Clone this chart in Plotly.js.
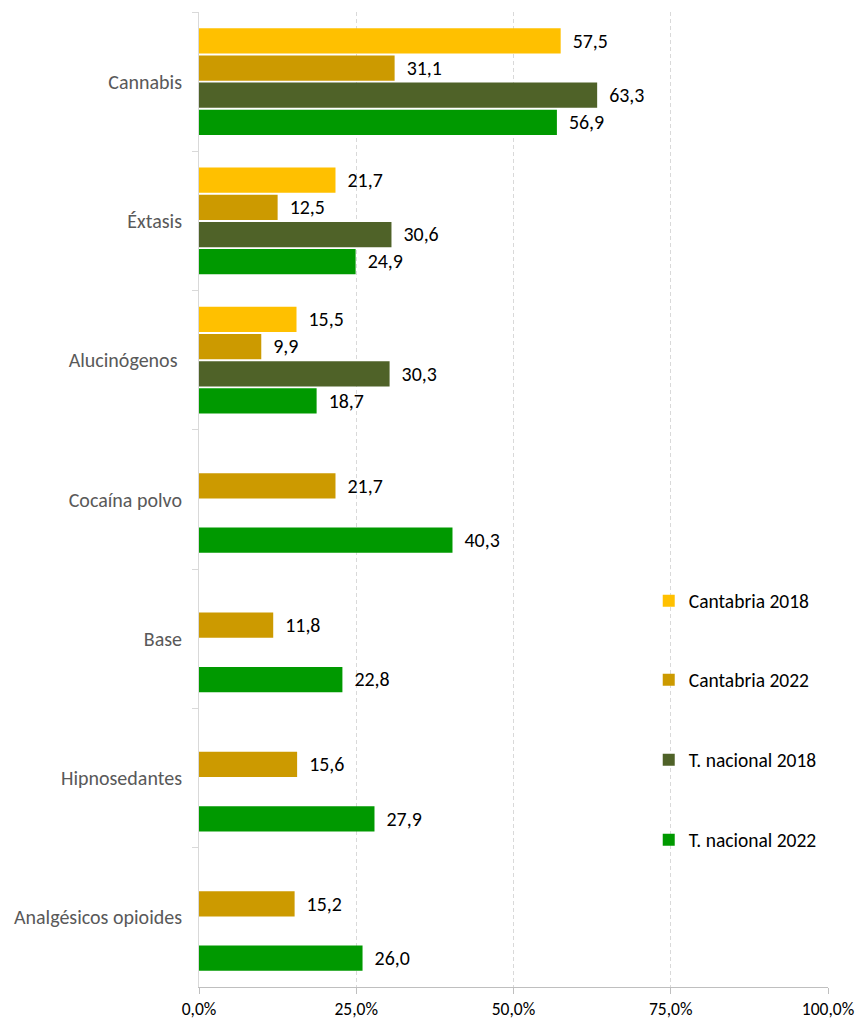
<!DOCTYPE html>
<html>
<head>
<meta charset="utf-8">
<script src="https://cdn.plot.ly/plotly-3.0.1.min.js"></script>
<style>html,body{margin:0;padding:0;background:#fff;}#chart{width:856px;height:1021px;}</style>
</head>
<body>
<div id="chart"></div>
<script>
const categories = ["Cannabis", "Éxtasis", "Alucinógenos ", "Cocaína polvo", "Base", "Hipnosedantes", "Analgésicos opioides"];
const seriesNames = ["Cantabria 2018", "Cantabria 2022", "T. nacional 2018", "T. nacional 2022"];
const cantabria2018 = [57.5, 21.7, 15.5, null, null, null, null];
const cantabria2022 = [31.1, 12.5, 9.9, 21.7, 11.8, 15.6, 15.2];
const nacional2018 = [63.3, 30.6, 30.3, null, null, null, null];
const nacional2022 = [56.9, 24.9, 18.7, 40.3, 22.8, 27.9, 26.0];
const colors = ["#FFC000", "#CC9A00", "#4F6228", "#009900"];
const xTickVals = [0, 25, 50, 75, 100];

const allValues = [cantabria2018, cantabria2022, nacional2018, nacional2022];
const legendIds = ["legend", "legend2", "legend3", "legend4"];
const pad = "\u00a0\u00a0";
const FONT = "Carlito, 'Noto Sans', sans-serif";

const traces = allValues.map((vals, i) => ({
  type: "bar",
  orientation: "h",
  name: seriesNames[i],
  y: categories,
  x: vals,
  legend: legendIds[i],
  marker: {color: colors[i], line: {width: 0}},
  text: vals.map(v => v === null ? "" : pad + v.toFixed(1).replace(".", ",")),
  textposition: "outside",
  cliponaxis: false,
  textfont: {family: FONT, size: 20.5, color: "#000000"},
  hoverinfo: "x+y"
}));

const legendBase = {
  x: 0.715, xanchor: "left", yanchor: "middle",
  bgcolor: "rgba(0,0,0,0)",
  font: {family: FONT, size: 19.5, color: "#000000"},
  itemwidth: 30
};
const legendY = [601, 680, 760, 840];
const plotTop = 12, plotBottom = 987;
const layout = {
  width: 856, height: 1021,
  margin: {l: 199, r: 28, t: plotTop, b: 1021 - plotBottom, pad: 0},
  paper_bgcolor: "#ffffff",
  plot_bgcolor: "#ffffff",
  separators: ",.",
  barmode: "group",
  bargap: 0.22,
  bargroupgap: 0.07,
  font: {family: FONT, size: 16, color: "#404040"},
  showlegend: true,
  xaxis: {
    range: [0, 100],
    tickvals: xTickVals,
    ticktext: xTickVals.map(v => v.toFixed(1).replace(".", ",") + "%"),
    showgrid: true,
    gridcolor: "#D9D9D9",
    griddash: "4px,3px",
    gridwidth: 1,
    zeroline: false,
    showline: true,
    linecolor: "#BFBFBF",
    linewidth: 1,
    ticks: "outside",
    ticklen: 6,
    tickcolor: "#BFBFBF",
    tickfont: {size: 17.5, color: "#000000"},
    fixedrange: true
  },
  yaxis: {
    type: "category",
    autorange: "reversed",
    showline: true,
    linecolor: "#D9D9D9",
    linewidth: 1,
    ticks: "outside",
    tickson: "boundaries",
    ticklen: 6,
    tickcolor: "#D9D9D9",
    ticklabelstandoff: 12,
    showgrid: false,
    tickfont: {size: 20, color: "#595959"},
    fixedrange: true
  }
};
legendIds.forEach((id, i) => {
  const yPaper = (plotBottom - legendY[i]) / (plotBottom - plotTop);
  layout[id] = Object.assign({}, legendBase, {y: yPaper});
});

Plotly.newPlot("chart", traces, layout, {displayModeBar: false, staticPlot: true});
</script>
</body>
</html>
